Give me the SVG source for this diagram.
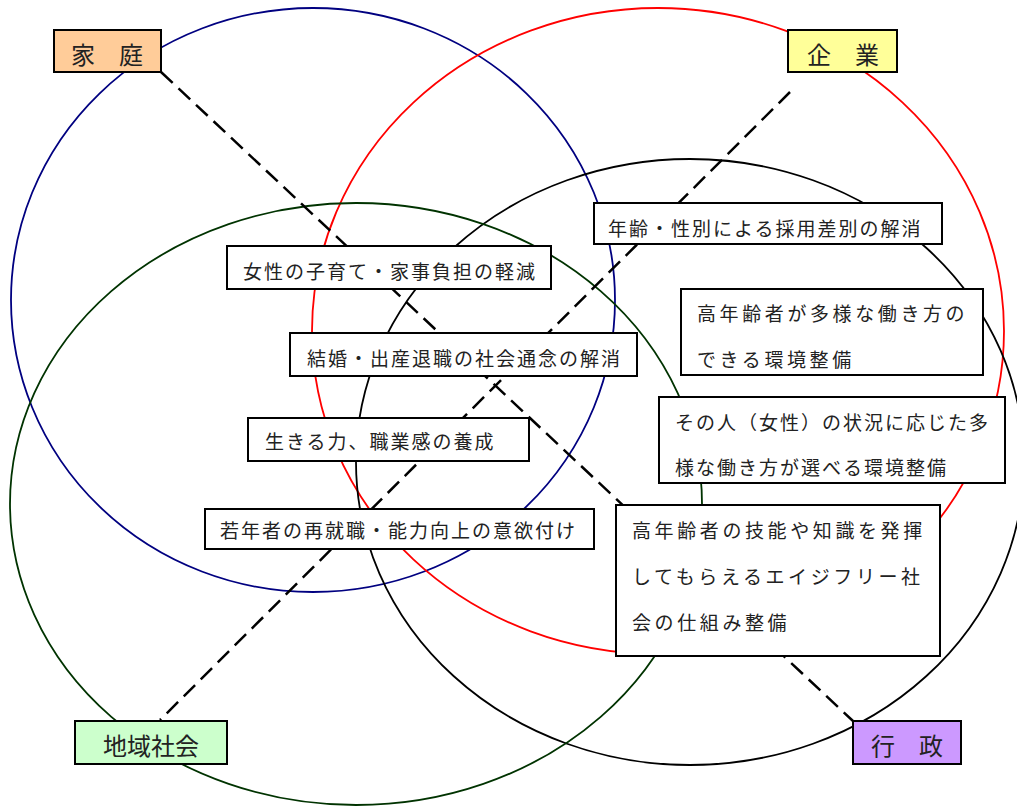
<svg xmlns="http://www.w3.org/2000/svg" width="1017" height="808" viewBox="0 0 1017 808">
<style>
.c{fill:none;stroke-width:1.8}
.b{fill:#fff;stroke:#000;stroke-width:2}
.l{stroke:#000;stroke-width:2}
.t{font-family:"Noto Sans CJK JP","Noto Sans",sans-serif;font-size:19px;fill:#222;letter-spacing:2px}
.w{letter-spacing:3.6px}
.h{font-family:"Noto Sans CJK JP","Noto Sans",sans-serif;font-size:24px;fill:#222;text-anchor:middle}
.d{stroke:#000;stroke-width:2.5;stroke-dasharray:16 8;fill:none}
</style>
<rect width="1017" height="808" fill="#fff"/>
<g id="circles">
<ellipse class="c" cx="313" cy="300" rx="302" ry="292" stroke="#000080"/>
<ellipse class="c" cx="658" cy="331" rx="346" ry="323" stroke="#ff0000"/>
<ellipse class="c" cx="690" cy="462" rx="334" ry="303" stroke="#000000"/>
<ellipse class="c" cx="356" cy="504" rx="346" ry="301" stroke="#003300"/>
</g>
<g id="connectors">
<line class="d" x1="161" y1="72" x2="853" y2="721"/>
<line class="d" x1="790" y1="92" x2="160" y2="720"/>
</g>
<g id="katei"><rect class="l" x="54" y="30" width="107" height="42" fill="#ffcc99"/><text class="h" x="107" y="64">家　庭</text></g>
<g id="kigyo"><rect class="l" x="788" y="30" width="109" height="42" fill="#ffff99"/><text class="h" x="843" y="64">企　業</text></g>
<g id="chiiki"><rect class="l" x="75" y="721" width="152" height="43" fill="#ccffcc"/><text class="h" x="151" y="755">地域社会</text></g>
<g id="gyosei"><rect class="l" x="853" y="721" width="108" height="43" fill="#cc99ff"/><text class="h" x="907" y="755">行　政</text></g>
<g id="n1"><rect class="b" x="227" y="246" width="324" height="43"/><text class="t" x="243" y="279">女性の子育て・家事負担の軽減</text></g>
<g id="n2"><rect class="b" x="594" y="203" width="348" height="41"/><text class="t" x="608" y="236">年齢・性別による採用差別の解消</text></g>
<g id="n3"><rect class="b" x="290" y="333" width="347" height="43"/><text class="t" x="307" y="366">結婚・出産退職の社会通念の解消</text></g>
<g id="n4"><rect class="b" x="681" y="289" width="302" height="86"/><text class="t w" x="697" y="321">高年齢者が多様な働き方の</text><text class="t w" x="697" y="367">できる環境整備</text></g>
<g id="n5"><rect class="b" x="248" y="418" width="281" height="43"/><text class="t" x="265" y="449">生きる力、職業感の養成</text></g>
<g id="n6"><rect class="b" x="659" y="397" width="346" height="86"/><text class="t" x="675" y="430">その人（女性）の状況に応じた多</text><text class="t" x="675" y="475">様な働き方が選べる環境整備</text></g>
<g id="n7"><rect class="b" x="205" y="509" width="389" height="40"/><text class="t" x="220" y="538">若年者の再就職・能力向上の意欲付け</text></g>
<g id="n8"><rect class="b" x="616" y="505" width="324" height="151"/><text class="t w" x="632" y="538">高年齢者の技能や知識を発揮</text><text class="t w" x="632" y="584">してもらえるエイジフリー社</text><text class="t w" x="632" y="630">会の仕組み整備</text></g>
</svg>
